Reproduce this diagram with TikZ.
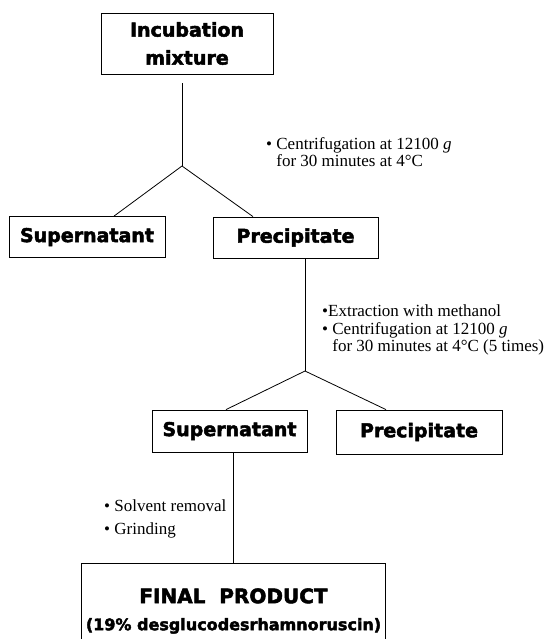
\documentclass[tikz,border=0pt]{standalone}
\usepackage{fontspec}
\setmainfont{Liberation Serif}
\newfontfamily\boxfont{DejaVu Sans}[BoldFeatures={FakeBold=2.5}]
\usepackage{tikz}

\begin{document}
\begin{tikzpicture}[x=1pt, y=-1pt,
  box/.style={draw, line width=0.8pt, inner sep=0pt, align=center, font={\boxfont\bfseries\fontsize{19}{28}\selectfont}},
  note/.style={inner sep=0pt, align=left, anchor=west, font={\fontsize{17}{17.5}\selectfont}}]
  \clip (0,0) rectangle (549,639);

  % Draw boxes
  \node [box, minimum width=172pt, minimum height=61pt] (inc) at (187,43.5) {Incubation\\mixture};
  \node [box, minimum width=156pt, minimum height=41pt] (sup1) at (87,237) {Supernatant};
  \node [box, minimum width=165pt, minimum height=41pt] (pre1) at (295.5,237.5) {Precipitate};
  \node [box, minimum width=155pt, minimum height=42pt] (sup2) at (229.5,431) {Supernatant};
  \node [box, minimum width=166pt, minimum height=44pt] (pre2) at (419,432) {Precipitate};
  \node [box, minimum width=304pt, minimum height=96pt] (fin) at (233.5,611) {\fontsize{20}{26}\selectfont FINAL\ \ PRODUCT\\[-1pt]\fontsize{16}{26}\selectfont (19\% desglucodesrhamnoruscin)};

  % Draw junctions
  \coordinate (j1) at (182,166);
  \coordinate (j2) at (305,371);

  % Draw lines
  \draw [line width=0.8pt, shorten <=9pt] (inc.south -| j1) -- (j1);
  \draw [line width=0.8pt] ([xshift=27pt]sup1.north) -- (j1) -- ([xshift=-42.5pt]pre1.north);
  \draw [line width=0.8pt] (pre1.south -| j2) -- (j2);
  \draw [line width=0.8pt] ([xshift=-3.5pt]sup2.north) -- (j2) -- ([xshift=-33pt]pre2.north);
  \draw [line width=0.8pt] ([xshift=3.5pt]sup2.south) -- ([xshift=-0.5pt]fin.north);

  % Notes
  \node [note] (n1) at (266,152) {\textbullet\ Centrifugation at 12100 \textit{g}\\\phantom{\textbullet\ }for 30 minutes at 4°C};
  \node [note] (n2) at (322,330) {\textbullet Extraction with methanol\\\textbullet\ Centrifugation at 12100 \textit{g}\\\phantom{\textbullet\ }for 30 minutes at 4°C (5 times)};
  \node [note] (n3) at (104,518.5) {\textbullet\ Solvent removal\\[5.5pt]\textbullet\ Grinding};
\end{tikzpicture}
\end{document}
